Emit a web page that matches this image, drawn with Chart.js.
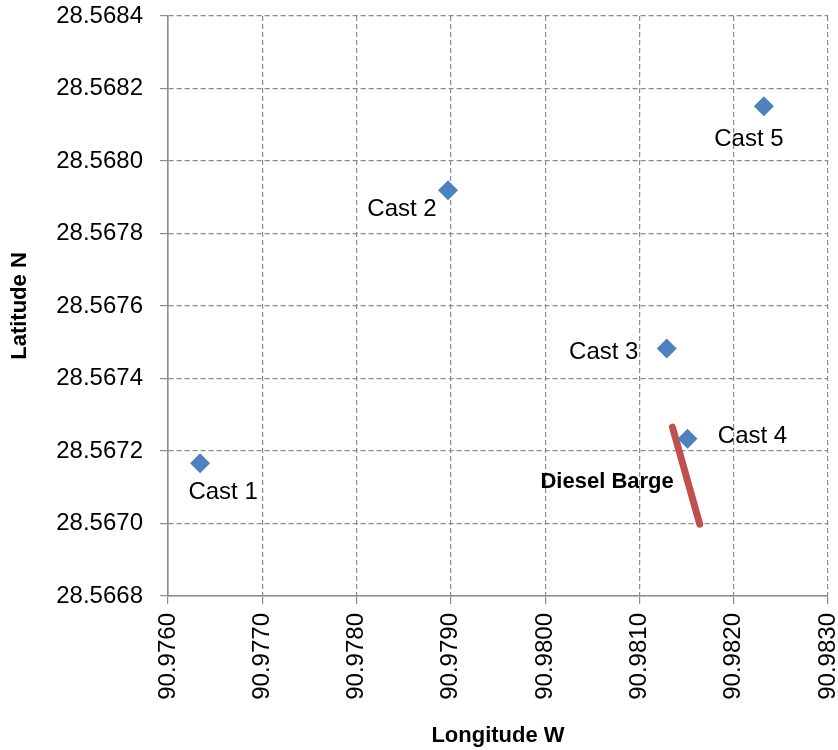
<!DOCTYPE html>
<html>
<head>
<meta charset="utf-8">
<script src="https://cdn.jsdelivr.net/npm/chart.js@4/dist/chart.umd.min.js"></script>
<style>
html,body{margin:0;padding:0;background:#fff;}
#wrap{width:838px;height:750px;}
</style>
</head>
<body>
<div id="wrap"><canvas id="c" width="838" height="750"></canvas></div>
<script>
// ---- data ----
const castNames = ['Cast 1', 'Cast 2', 'Cast 3', 'Cast 4', 'Cast 5'];
const castLon = [90.97634, 90.97897, 90.98129, 90.98151, 90.98232];
const castLat = [28.567166, 28.567919, 28.567483, 28.567234, 28.568151];
const bargeName = 'Diesel Barge';
const bargeLon = [90.98135, 90.98164];
const bargeLat = [28.567266, 28.566998];
const xRange = [90.9760, 90.9830];
const xStep = 0.001;
const yRange = [28.5668, 28.5684];
const yStep = 0.0002;
const xTitle = 'Longitude W';
const yTitle = 'Latitude N';

// ---- style (label offsets in pixels) ----
const castLabelOffsets = [[23, 29], [-46, 19], [-63, 4], [65, -2], [-15, 33]];
const bargeLabelOffset = [-79, 6];
const FONT = '"Liberation Sans", Arial, sans-serif';
const gridColor = '#8c8c8c';

const labelPlugin = {
  id: 'pointLabels',
  afterDatasetsDraw(chart) {
    const {ctx, scales: {x, y}} = chart;
    ctx.save();
    ctx.fillStyle = '#000';
    ctx.textAlign = 'center';
    ctx.textBaseline = 'middle';
    ctx.font = '24px ' + FONT;
    castNames.forEach((n, i) => {
      const px = x.getPixelForValue(castLon[i]) + castLabelOffsets[i][0];
      const py = y.getPixelForValue(castLat[i]) + castLabelOffsets[i][1];
      ctx.fillText(n, px, py);
    });
    ctx.font = 'bold 22px ' + FONT;
    const mx = (x.getPixelForValue(bargeLon[0]) + x.getPixelForValue(bargeLon[1])) / 2;
    const my = (y.getPixelForValue(bargeLat[0]) + y.getPixelForValue(bargeLat[1])) / 2;
    ctx.fillText(bargeName, mx + bargeLabelOffset[0], my + bargeLabelOffset[1]);
    ctx.restore();
  }
};

new Chart(document.getElementById('c'), {
  type: 'scatter',
  data: {
    datasets: [
      {
        label: bargeName,
        data: bargeLon.map((v, i) => ({x: v, y: bargeLat[i]})),
        showLine: true,
        borderColor: '#C0504D',
        borderWidth: 7,
        borderCapStyle: 'round',
        pointRadius: 0,
        pointHoverRadius: 0,
        order: 2
      },
      {
        label: 'Casts',
        data: castLon.map((v, i) => ({x: v, y: castLat[i]})),
        pointStyle: 'rectRot',
        pointRadius: 10,
        pointHoverRadius: 10,
        backgroundColor: '#4F81BD',
        borderColor: '#4F81BD',
        borderWidth: 0,
        order: 1
      }
    ]
  },
  options: {
    responsive: false,
    animation: false,
    layout: {padding: {left: 0, right: 9, top: 16, bottom: 0}},
    plugins: {legend: {display: false}, tooltip: {enabled: false}},
    scales: {
      x: {
        type: 'linear',
        min: xRange[0], max: xRange[1],
        ticks: {
          stepSize: xStep,
          callback: v => v.toFixed(4),
          minRotation: 90, maxRotation: 90,
          padding: 9,
          color: '#000',
          font: {family: FONT, size: 24}
        },
        grid: {color: gridColor, tickBorderDash: [], tickLength: 8, tickColor: gridColor, lineWidth: 1.2},
        border: {display: true, color: gridColor, width: 1.6, dash: [5, 3]},
        title: {display: true, text: xTitle, color: '#000', font: {family: FONT, size: 22, weight: 'bold'}, padding: {top: 0, bottom: 1}},
        afterFit: s => { s.height = 154; s.paddingLeft = 0; s.paddingRight = 0; }
      },
      y: {
        type: 'linear',
        min: yRange[0], max: yRange[1],
        ticks: {
          stepSize: yStep,
          callback: v => v.toFixed(4),
          padding: 17,
          color: '#000',
          font: {family: FONT, size: 24}
        },
        grid: {color: gridColor, tickBorderDash: [], tickLength: 8, tickColor: gridColor, lineWidth: 1.2},
        border: {display: true, color: gridColor, width: 1.6, dash: [5, 3]},
        title: {display: true, text: yTitle, color: '#000', font: {family: FONT, size: 22, weight: 'bold'}, padding: {top: 7, bottom: 0}},
        afterFit: s => { s.width = 168; s.paddingTop = 0; s.paddingBottom = 0; }
      }
    }
  },
  plugins: [labelPlugin]
});
</script>
</body>
</html>
